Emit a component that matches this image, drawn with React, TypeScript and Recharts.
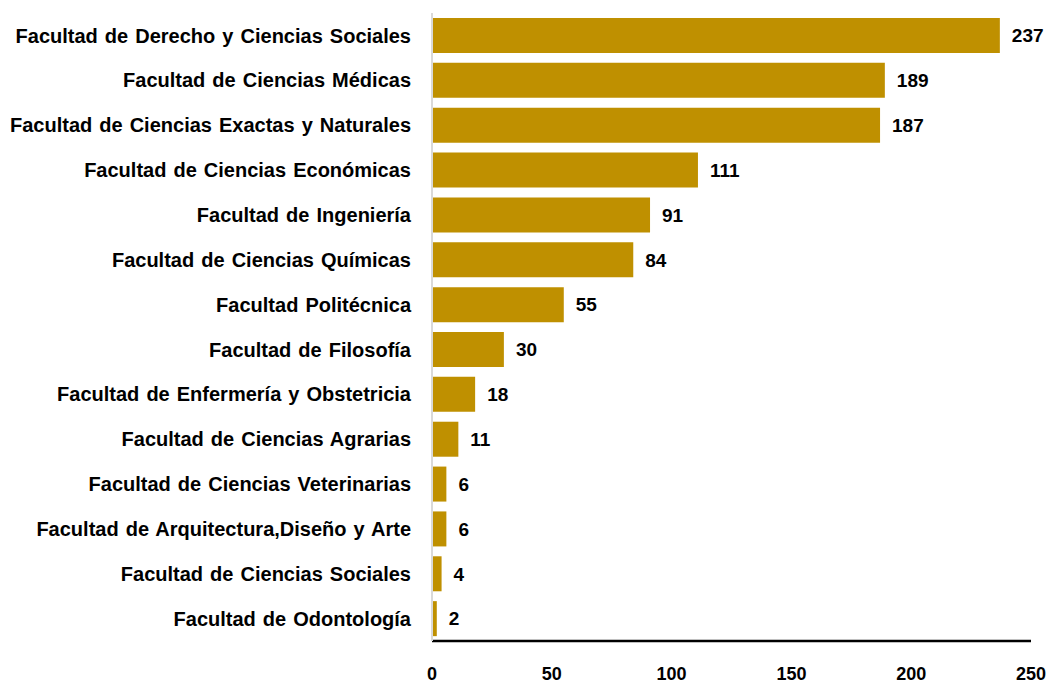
import { BarChart, Bar, XAxis, YAxis, LabelList } from 'recharts';

const faculties = [
  'Facultad de Derecho y Ciencias Sociales',
  'Facultad de Ciencias Médicas',
  'Facultad de Ciencias Exactas y Naturales',
  'Facultad de Ciencias Económicas',
  'Facultad de Ingeniería',
  'Facultad de Ciencias Químicas',
  'Facultad Politécnica',
  'Facultad de Filosofía',
  'Facultad de Enfermería y Obstetricia',
  'Facultad de Ciencias Agrarias',
  'Facultad de Ciencias Veterinarias',
  'Facultad de Arquitectura,Diseño  y Arte',
  'Facultad de Ciencias Sociales',
  'Facultad de Odontología',
];

const counts = [237, 189, 187, 111, 91, 84, 55, 30, 18, 11, 6, 6, 4, 2];

const xTicks = [0, 50, 100, 150, 200, 250];

const BAR_COLOR = '#BF9000';
const FONT = '"Liberation Sans", Arial, sans-serif';

const data = faculties.map((name, i) => ({ name, value: counts[i] }));

export default function App() {
  return (
    <div style={{ position: 'absolute', left: 0, top: 0, background: '#fff' }}>
      <BarChart
        width={1048}
        height={684}
        data={data}
        layout="vertical"
        margin={{ top: 13, right: 17, left: 0, bottom: 0 }}
      >
        <XAxis
          type="number"
          domain={[0, 250]}
          ticks={xTicks}
          height={43}
          axisLine={{ stroke: '#000', strokeWidth: 2.5 }}
          tickLine={false}
          tickSize={0}
          tickMargin={26}
          tick={{ fill: '#000', fontSize: 18, fontWeight: 700, fontFamily: '"Liberation Sans Narrow", "Liberation Sans", Arial, sans-serif' }}
        />
        <YAxis
          type="category"
          dataKey="name"
          width={432}
          axisLine={{ stroke: '#d9d9d9', strokeWidth: 2 }}
          tickLine={false}
          tickSize={0}
          tickMargin={21}
          interval={0}
          tick={{ fill: '#000', fontSize: 20, fontWeight: 700, fontFamily: FONT, style: { wordSpacing: '1.5px' } }}
        />
        <Bar dataKey="value" fill={BAR_COLOR} barSize={35} isAnimationActive={false}>
          <LabelList
            dataKey="value"
            position="right"
            offset={12}
            fill="#000"
            fontSize={19}
            fontWeight={700}
            fontFamily={FONT}
          />
        </Bar>
      </BarChart>
    </div>
  );
}
